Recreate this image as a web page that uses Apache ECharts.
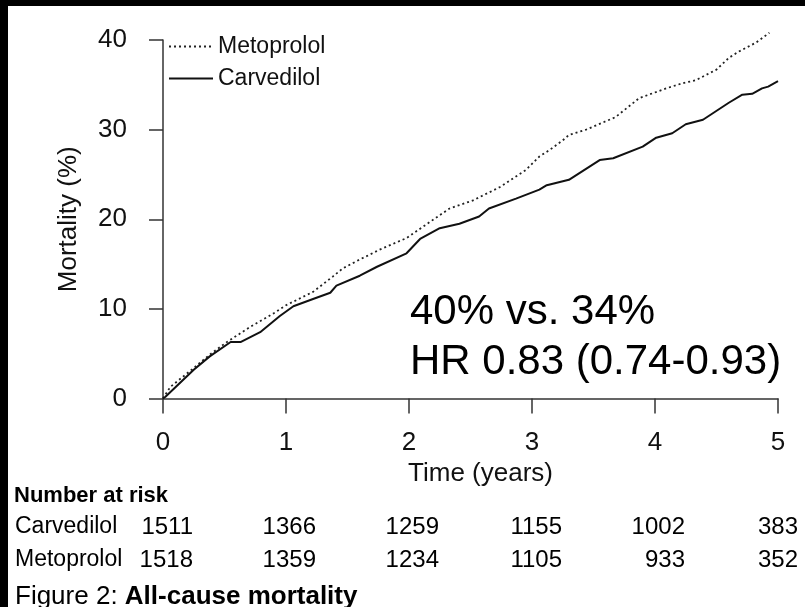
<!DOCTYPE html>
<html>
<head>
<meta charset="utf-8">
<script src="https://cdn.jsdelivr.net/npm/echarts@6/dist/echarts.min.js"></script>
<style>
  html, body { margin: 0; padding: 0; background: #fff; }
  #chart { width: 805px; height: 607px; }
</style>
</head>
<body>
<div id="chart"></div>
<script>
  // curves (time in years, cumulative mortality %)
  var timeCarv = [0, 0.02, 0.25, 0.38, 0.55, 0.63, 0.79, 0.95, 1.06, 1.22, 1.36, 1.41, 1.6, 1.74, 1.98, 2.09, 2.25, 2.41, 2.57, 2.65, 2.87, 3.06, 3.12, 3.3, 3.55, 3.66, 3.9, 4.01, 4.14, 4.25, 4.39, 4.6, 4.71, 4.79, 4.87, 4.92, 5.0]
  var carv = [0, 0.2, 3.2, 4.7, 6.3, 6.3, 7.4, 9.2, 10.3, 11.1, 11.8, 12.6, 13.7, 14.7, 16.2, 17.8, 19.0, 19.5, 20.3, 21.2, 22.3, 23.3, 23.8, 24.4, 26.6, 26.8, 28.1, 29.1, 29.6, 30.6, 31.1, 33.0, 33.9, 34.0, 34.6, 34.8, 35.4]
  var timeMeto = [0, 0.06, 0.25, 0.38, 0.52, 0.71, 0.9, 1.0, 1.22, 1.38, 1.46, 1.57, 1.76, 1.98, 2.17, 2.33, 2.52, 2.74, 2.95, 3.06, 3.14, 3.25, 3.3, 3.44, 3.68, 3.87, 4.09, 4.23, 4.33, 4.5, 4.6, 4.68, 4.82, 4.93]
  var meto = [0, 1.3, 3.4, 4.9, 6.3, 8.0, 9.5, 10.4, 11.9, 13.6, 14.5, 15.3, 16.6, 17.9, 19.7, 21.2, 22.1, 23.6, 25.5, 27.0, 27.7, 28.8, 29.4, 30.0, 31.4, 33.5, 34.6, 35.2, 35.5, 36.7, 38.0, 38.7, 39.7, 40.8]

  // number at risk table
  var riskTimes = [0, 1, 2, 3, 4, 5]
  var carvRisk = [1511, 1366, 1259, 1155, 1002, 383]
  var metoRisk = [1518, 1359, 1234, 1105, 933, 352]

  var FONT = '"Liberation Sans", Arial, sans-serif'
  var INK = '#111'

  function pairs(xs, ys) {
    return xs.map(function (x, i) { return [x, ys[i]] })
  }

  var chart = echarts.init(document.getElementById('chart'))

  chart.setOption({
    backgroundColor: '#fff',
    animation: false,
    grid: { left: 163, right: 27, top: 40, bottom: 208.5, containLabel: false },
    legend: {
      data: ['Metoprolol', 'Carvedilol'],
      orient: 'vertical',
      left: 163,
      top: 30,
      itemWidth: 44,
      itemHeight: 12,
      itemGap: 9,
      itemStyle: { opacity: 0 }, // line only, no symbol
      textStyle: { fontSize: 23, color: INK, fontFamily: FONT }
    },
    xAxis: {
      type: 'value',
      min: 0,
      max: 5,
      interval: 1,
      offset: 13.5,
      name: 'Time (years)',
      nameLocation: 'middle',
      nameGap: 47,
      nameTextStyle: { fontSize: 26, color: INK, fontFamily: FONT, padding: [0, 0, 0, 20] },
      axisLine: { lineStyle: { color: '#333', width: 1.5 } },
      axisTick: { length: 15, lineStyle: { color: '#333', width: 1.5 } },
      axisLabel: { fontSize: 26, color: INK, fontFamily: FONT, margin: 18 },
      splitLine: { show: false }
    },
    yAxis: {
      type: 'value',
      min: 0,
      max: 40,
      interval: 10,
      offset: 17,
      name: 'Mortality (%)',
      nameLocation: 'middle',
      nameGap: 64,
      nameTextStyle: { fontSize: 26, color: INK, fontFamily: FONT },
      axisLine: { show: true, lineStyle: { color: '#333', width: 1.5 } },
      axisTick: { show: true, length: 14, lineStyle: { color: '#333', width: 1.5 } },
      axisLabel: { fontSize: 26, color: INK, fontFamily: FONT, margin: 19 },
      splitLine: { show: false }
    },
    series: [
      {
        name: 'Metoprolol',
        type: 'line',
        symbol: 'none',
        clip: false,
        data: pairs(timeMeto, meto),
        lineStyle: { color: '#222', width: 1.8, type: [2, 3] },
        itemStyle: { color: '#222' }
      },
      {
        name: 'Carvedilol',
        type: 'line',
        symbol: 'none',
        clip: false,
        data: pairs(timeCarv, carv),
        lineStyle: { color: '#111', width: 2 },
        itemStyle: { color: '#111' }
      }
    ]
  })

  // annotation, risk table and caption placed with the x axis scale
  var g = [
    { type: 'rect', shape: { x: 0, y: 0, width: 805, height: 6 }, style: { fill: '#000' }, z: 100 },
    { type: 'rect', shape: { x: 0, y: 0, width: 8, height: 607 }, style: { fill: '#000' }, z: 100 },
    { type: 'text', style: { text: '40% vs. 34%', x: 410, y: 312, font: '42px ' + FONT, fill: '#000', verticalAlign: 'middle' } },
    { type: 'text', style: { text: 'HR 0.83 (0.74-0.93)', x: 410, y: 362, font: '42px ' + FONT, fill: '#000', verticalAlign: 'middle' } },
    { type: 'text', style: { text: 'Number at risk', x: 14, y: 496, font: 'bold 22px ' + FONT, fill: '#000', verticalAlign: 'middle' } },
    { type: 'text', style: { text: 'Carvedilol', x: 15, y: 527, font: '23px ' + FONT, fill: '#000', verticalAlign: 'middle' } },
    { type: 'text', style: { text: 'Metoprolol', x: 15, y: 560, font: '23px ' + FONT, fill: '#000', verticalAlign: 'middle' } },
    {
      type: 'text',
      style: {
        x: 15, y: 597, verticalAlign: 'middle',
        text: '{n|Figure 2: }{b|All-cause mortality}',
        rich: {
          n: { font: '26px ' + FONT, fill: '#000' },
          b: { font: 'bold 26px ' + FONT, fill: '#000' }
        }
      }
    }
  ]
  riskTimes.forEach(function (t, i) {
    var px = Math.min(chart.convertToPixel({ xAxisIndex: 0 }, t) + 30, 798)
    g.push({ type: 'text', style: { text: String(carvRisk[i]), x: px, y: 527, font: '24px ' + FONT, fill: '#000', align: 'right', verticalAlign: 'middle' } })
    g.push({ type: 'text', style: { text: String(metoRisk[i]), x: px, y: 560, font: '24px ' + FONT, fill: '#000', align: 'right', verticalAlign: 'middle' } })
  })
  chart.setOption({ graphic: g })
</script>
</body>
</html>
